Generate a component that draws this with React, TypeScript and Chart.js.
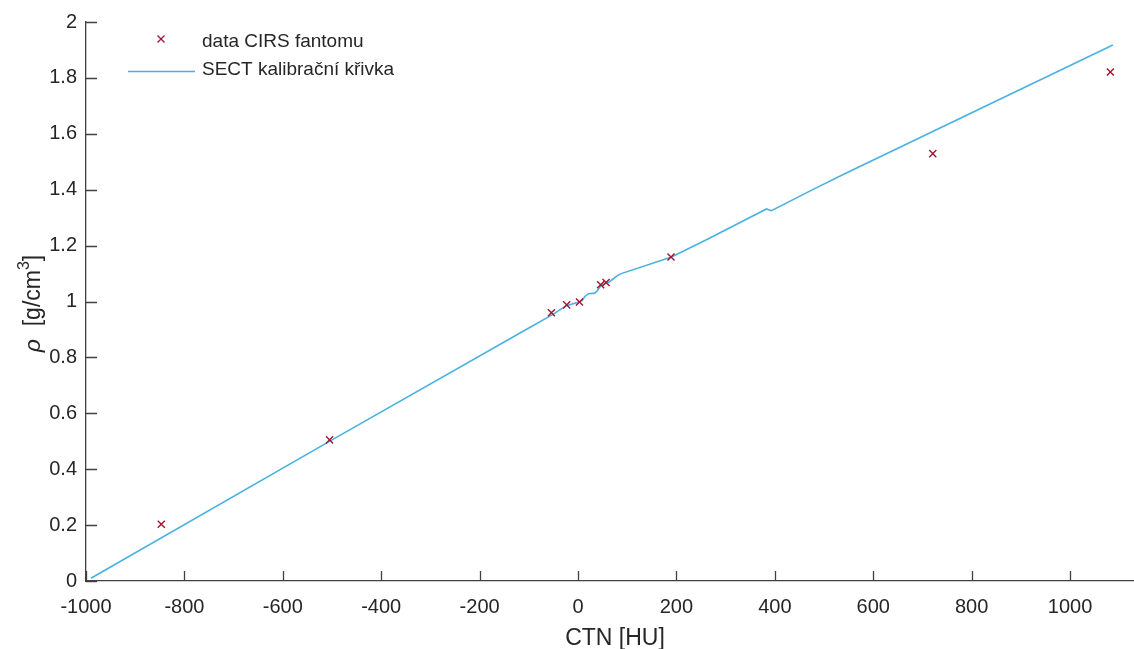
import React, { useEffect, useRef } from 'react';
import { Chart, registerables } from 'chart.js';

Chart.register(...registerables);

// ---- data ----
const cirsCtn = [-847, -505, -54, -23, 3, 46, 57, 189, 721, 1082];
const cirsRho = [0.203, 0.505, 0.96, 0.988, 0.998, 1.06, 1.068, 1.159, 1.529, 1.821];

const curveCtn = [-990, -500, -100, -50, -24, 2, 8, 14, 21, 34, 38, 47, 57, 62, 78, 85, 190, 261, 383, 393, 480, 540, 1087];
const curveRho = [0.01, 0.505, 0.905, 0.955, 0.985, 0.998, 1.003, 1.018, 1.028, 1.03, 1.036, 1.058, 1.066, 1.068, 1.09, 1.098, 1.159, 1.221, 1.331, 1.325, 1.403, 1.455, 1.918];

const xMin = -1000;
const xMax = 1130;
const xStep = 200;
const yMin = 0;
const yMax = 2;
const yStep = 0.2;

const seriesLabels = ['data CIRS fantomu', 'SECT kalibrační křivka'];
const xTitle = 'CTN [HU]';
const yTitleSymbol = 'ρ';
const yTitleUnit = '  [g/cm';
const yTitleSup = '3';
const yTitleEnd = ']';

// ---- style ----
const FONT = '"Liberation Sans", Arial, Helvetica, sans-serif';
const TEXT = '#262626';
const AXIS = '#404040';
const RED = '#A2142F';
const BLUE = 'rgb(72,178,226)';

const decorPlugin = {
  id: 'decor',
  afterDraw(chart: any) {
    const ctx: CanvasRenderingContext2D = chart.ctx;
    const { left, right, top, bottom } = chart.chartArea;
    const xs = chart.scales.x;
    const ys = chart.scales.y;
    ctx.save();

    // inward ticks
    ctx.strokeStyle = AXIS;
    ctx.lineWidth = 1.3;
    ctx.beginPath();
    xs.ticks.forEach((t: any) => {
      const px = Math.round(xs.getPixelForValue(t.value)) + 0.5;
      ctx.moveTo(px, bottom);
      ctx.lineTo(px, bottom - 10);
    });
    ys.ticks.forEach((t: any) => {
      const py = Math.round(ys.getPixelForValue(t.value)) + 0.5;
      ctx.moveTo(left, py);
      ctx.lineTo(left + 11, py);
    });
    ctx.stroke();

    // x title
    ctx.fillStyle = TEXT;
    ctx.font = `23px ${FONT}`;
    ctx.textAlign = 'center';
    ctx.textBaseline = 'alphabetic';
    ctx.fillText(xTitle, (left + right) / 2 + 5, 645);

    // y title (rotated, with superscript)
    const parts = [
      { t: yTitleSymbol, f: `italic 23px ${FONT}`, dy: 0 },
      { t: yTitleUnit, f: `23px ${FONT}`, dy: 0 },
      { t: yTitleSup, f: `16px ${FONT}`, dy: -11 },
      { t: yTitleEnd, f: `23px ${FONT}`, dy: 0 },
    ];
    let total = 0;
    const widths = parts.map((p) => {
      ctx.font = p.f;
      const w = ctx.measureText(p.t).width;
      total += w;
      return w;
    });
    ctx.save();
    ctx.translate(40, (top + bottom) / 2 + 2);
    ctx.rotate(-Math.PI / 2);
    ctx.textAlign = 'left';
    let cx = -total / 2;
    parts.forEach((p, i) => {
      ctx.font = p.f;
      ctx.fillText(p.t, cx, p.dy);
      cx += widths[i];
    });
    ctx.restore();

    // legend
    const ds = chart.data.datasets;
    ctx.font = `19px ${FONT}`;
    ctx.textAlign = 'left';
    ctx.fillStyle = TEXT;
    const mx = 161, my = 39, mr = 3.5;
    ctx.strokeStyle = RED;
    ctx.lineWidth = 1.3;
    ctx.beginPath();
    ctx.moveTo(mx - mr, my - mr);
    ctx.lineTo(mx + mr, my + mr);
    ctx.moveTo(mx - mr, my + mr);
    ctx.lineTo(mx + mr, my - mr);
    ctx.stroke();
    ctx.fillText(ds[0].label, 202, 46.5);
    ctx.strokeStyle = BLUE;
    ctx.lineWidth = 1.6;
    ctx.beginPath();
    ctx.moveTo(128, 71.5);
    ctx.lineTo(195, 71.5);
    ctx.stroke();
    ctx.fillText(ds[1].label, 202, 74.5);

    ctx.restore();
  },
};

export default function App() {
  const canvasRef = useRef<HTMLCanvasElement | null>(null);

  useEffect(() => {
    document.body.style.margin = '0';
    document.body.style.overflow = 'hidden';
    const canvas = canvasRef.current;
    if (!canvas) return;

    const chart = new Chart(canvas, {
      type: 'scatter',
      data: {
        datasets: [
          {
            label: seriesLabels[0],
            data: cirsCtn.map((x, i) => ({ x, y: cirsRho[i] })),
            showLine: false,
            pointStyle: 'crossRot',
            pointRadius: 5,
            pointBorderWidth: 1.4,
            borderColor: RED,
            backgroundColor: RED,
          },
          {
            label: seriesLabels[1],
            data: curveCtn.map((x, i) => ({ x, y: curveRho[i] })),
            showLine: true,
            pointRadius: 0,
            borderWidth: 1.6,
            borderColor: BLUE,
            backgroundColor: BLUE,
            tension: 0,
            fill: false,
          },
        ],
      },
      options: {
        animation: false,
        responsive: false,
        maintainAspectRatio: false,
        layout: { autoPadding: false, padding: { top: 22, right: 0, left: 0, bottom: 0 } },
        plugins: {
          legend: { display: false },
          tooltip: { enabled: false },
          title: { display: false },
        },
        scales: {
          x: {
            type: 'linear',
            min: xMin,
            max: xMax,
            grid: { display: false, drawTicks: false, tickLength: 0 },
            border: { display: true, color: AXIS, width: 1.3 },
            ticks: {
              stepSize: xStep,
              includeBounds: false,
              color: TEXT,
              font: { family: FONT, size: 20 },
              padding: 14,
              maxRotation: 0,
              autoSkip: false,
              callback: (v: any) => String(v),
            },
            afterFit: (s: any) => {
              s.height = 68;
              s.paddingLeft = 0;
              s.paddingRight = 0;
            },
          },
          y: {
            type: 'linear',
            min: yMin,
            max: yMax,
            grid: { display: false, drawTicks: false, tickLength: 0 },
            border: { display: true, color: AXIS, width: 1.3 },
            ticks: {
              stepSize: yStep,
              includeBounds: false,
              color: TEXT,
              font: { family: FONT, size: 20 },
              padding: 9,
              autoSkip: false,
              callback: (v: any) => String(Math.round(v * 10) / 10),
            },
            afterFit: (s: any) => {
              s.width = 86;
            },
          },
        },
      },
      plugins: [decorPlugin],
    });

    return () => {
      chart.destroy();
    };
  }, []);

  return (
    <div style={{ width: 1134, height: 649, position: 'relative', background: '#fff' }}>
      <canvas ref={canvasRef} width={1134} height={649} style={{ display: 'block' }} />
    </div>
  );
}
